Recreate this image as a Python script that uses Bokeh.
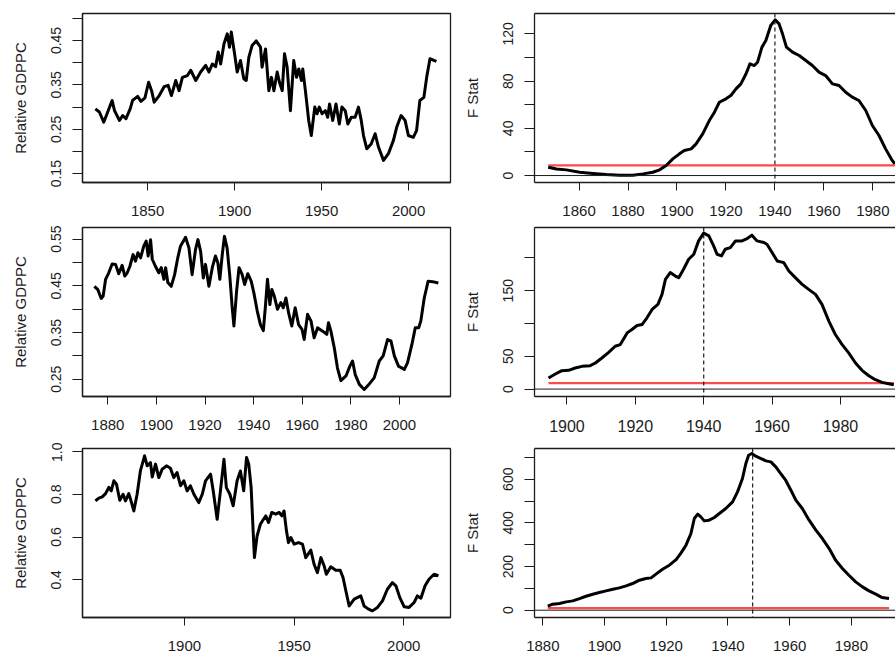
from bokeh.plotting import figure
from bokeh.layouts import column, row
from bokeh.models import FixedTicker, Range1d, Span, LinearAxis
from bokeh.embed import file_html
from bokeh.resources import INLINE

# ---------------- data ----------------
tl_year = [1820, 1822.3, 1824.8, 1826.7, 1829.6, 1831, 1833.8, 1835.7, 1837.6, 1840, 1841.4, 1844.3, 1846.2, 1848.5,
           1850.6, 1852.3, 1853.8, 1856.7, 1859.5, 1861.8, 1863.7, 1866.2, 1868.1, 1870, 1872.9, 1874.8, 1877.7,
           1880.5, 1883.4, 1885.3, 1887.2, 1889.1, 1890.6, 1892, 1893.9, 1895.8, 1897.1, 1898.1, 1900, 1901.5,
           1903.4, 1905.3, 1906.7, 1908.2, 1910.1, 1912.4, 1914.9, 1915.8, 1917.8, 1919.7, 1921.2, 1922.6, 1924.5,
           1925.8, 1927.4, 1928.7, 1930.2, 1932.1, 1934, 1935.6, 1936.9, 1938.4, 1939.2, 1940.7, 1942.6, 1944.1,
           1946.1, 1947.4, 1948.7, 1950.3, 1952.2, 1953.5, 1954.6, 1956.4, 1958.3, 1960.2, 1961.7, 1963.6, 1965.1,
           1967.1, 1969.3, 1971.2, 1972.8, 1974.1, 1976, 1978.5, 1980.8, 1982.7, 1985.6, 1988.4, 1991.3, 1993.2,
           1995.7, 1998, 1999.9, 2002.7, 2004.6, 2006.5, 2008.8, 2010.4, 2012.3, 2014.2, 2016]
tl_val = [0.296, 0.289, 0.266, 0.285, 0.315, 0.292, 0.27, 0.281, 0.274, 0.296, 0.315, 0.324, 0.313, 0.321,
          0.356, 0.337, 0.311, 0.326, 0.346, 0.349, 0.326, 0.36, 0.337, 0.367, 0.371, 0.383, 0.36,
          0.379, 0.394, 0.379, 0.397, 0.391, 0.424, 0.397, 0.442, 0.465, 0.435, 0.469, 0.42, 0.379,
          0.405, 0.364, 0.36, 0.412, 0.439, 0.449, 0.435, 0.39, 0.431, 0.337, 0.367, 0.337, 0.379,
          0.356, 0.337, 0.42, 0.39, 0.292, 0.405, 0.367, 0.386, 0.36, 0.386, 0.337, 0.27, 0.236,
          0.3, 0.285, 0.3, 0.285, 0.292, 0.277, 0.307, 0.27, 0.307, 0.262, 0.3, 0.292, 0.262,
          0.277, 0.277, 0.3, 0.27, 0.236, 0.206, 0.217, 0.24, 0.21, 0.18, 0.195, 0.225, 0.255,
          0.281, 0.27, 0.236, 0.232, 0.247, 0.315, 0.322, 0.367, 0.409, 0.406, 0.403]

ml_year = [1874.5, 1875.9, 1877.3, 1878.1, 1879.1, 1880.4, 1881.8, 1883.2, 1884.5, 1885.9,
           1887, 1888, 1889.1, 1890.4, 1891.4, 1892.4, 1893.5, 1894.8, 1895.8, 1896.6,
           1897.6, 1898.3, 1899.6, 1901, 1902, 1903.1, 1903.8, 1904.7, 1906.1, 1907.5,
           1908.8, 1909.9, 1912, 1913.4, 1914.7, 1916.1, 1917.1, 1918.2, 1919.3, 1920.2,
           1921.6, 1923, 1924.3, 1925.3, 1926.1, 1927.1, 1928, 1929.1, 1930.2, 1931.2,
           1931.9, 1933, 1934, 1935.3, 1936.3, 1937.6, 1939, 1940.1, 1941.5, 1942.8,
           1944, 1944.8, 1945.7, 1946.7, 1947.5, 1948.5, 1949.8, 1951.2, 1952.2, 1953.3,
           1954.4, 1955.7, 1957.1, 1958.5, 1959.9, 1960.8, 1962.2, 1963.6, 1964.9, 1966.3,
           1968.4, 1970.1, 1970.8, 1971.8, 1973.2, 1974.5, 1975.9, 1978, 1979.6, 1980.7,
           1981.8, 1983.5, 1985.5, 1987.6, 1989.6, 1991.7, 1993.3, 1995.1, 1996.5, 1997.9,
           1999.6, 2002, 2003.3, 2005.1, 2006.5, 2007.9, 2008.8, 2010.2, 2011.8, 2013.6, 2016]
ml_val = [0.449, 0.442, 0.423, 0.428, 0.464, 0.478, 0.497, 0.496, 0.476, 0.494,
          0.471, 0.478, 0.492, 0.517, 0.503, 0.521, 0.51, 0.535, 0.546, 0.514,
          0.549, 0.507, 0.492, 0.478, 0.489, 0.464, 0.489, 0.457, 0.449, 0.474,
          0.51, 0.535, 0.554, 0.531, 0.474, 0.528, 0.549, 0.524, 0.467, 0.496,
          0.449, 0.489, 0.514, 0.499, 0.464, 0.517, 0.556, 0.531, 0.471, 0.403,
          0.364, 0.439, 0.489, 0.474, 0.453, 0.476, 0.46, 0.435, 0.396, 0.367,
          0.354, 0.403, 0.464, 0.41, 0.442, 0.428, 0.4, 0.414, 0.403, 0.424,
          0.392, 0.364, 0.403, 0.367, 0.357, 0.335, 0.389, 0.375, 0.339, 0.36,
          0.353, 0.346, 0.371, 0.353, 0.317, 0.274, 0.247, 0.257, 0.278, 0.289,
          0.26, 0.239, 0.228, 0.24, 0.253, 0.289, 0.3, 0.335, 0.332, 0.3,
          0.278, 0.271, 0.285, 0.324, 0.36, 0.36, 0.375, 0.424, 0.46, 0.459, 0.456]

bl_year = [1859.4, 1860.9, 1862.5, 1864, 1865.5, 1866.6, 1867.8, 1869, 1870.5, 1872,
           1873.1, 1874.6, 1875.4, 1876.9, 1878.4, 1879.9, 1881.8, 1883, 1884.5, 1885.3,
           1886.8, 1888.3, 1889.8, 1891.8, 1893.6, 1895.1, 1896.6, 1898.2, 1899.7, 1901.2,
           1902.7, 1904.3, 1906.5, 1908.1, 1909.6, 1911.9, 1913.1, 1914.9, 1916.4, 1918,
           1919.1, 1920.7, 1922.2, 1924, 1925.5, 1927, 1928.3, 1929.3, 1930.4, 1931.3,
           1931.9, 1933.1, 1934.6, 1935.6, 1937.1, 1938.3, 1939.8, 1941.6, 1943.2, 1944.4,
           1945.4, 1946.5, 1947.4, 1948.5, 1950, 1952, 1953.8, 1955.3, 1957.6, 1959.1,
           1960.6, 1962.2, 1963.7, 1964.7, 1966.7, 1969, 1971, 1972.3, 1973.6, 1975.1,
           1977.4, 1980.4, 1981.9, 1983.9, 1985.7, 1988, 1990.3, 1992.5, 1994.8, 1996.4,
           1998.2, 2000.2, 2002.4, 2004.7, 2006.2, 2007.8, 2009.7, 2011.5, 2013.8, 2015.8]
bl_val = [0.769, 0.782, 0.788, 0.803, 0.832, 0.816, 0.863, 0.847, 0.772, 0.8,
          0.769, 0.803, 0.777, 0.722, 0.8, 0.909, 0.98, 0.933, 0.948, 0.881,
          0.941, 0.878, 0.917, 0.933, 0.922, 0.878, 0.902, 0.84, 0.863, 0.816,
          0.84, 0.8, 0.761, 0.8, 0.863, 0.894, 0.816, 0.683, 0.816, 0.964,
          0.831, 0.8, 0.746, 0.863, 0.909, 0.816, 0.972, 0.941, 0.831, 0.629,
          0.504, 0.605, 0.66, 0.676, 0.699, 0.668, 0.715, 0.707, 0.715, 0.699,
          0.722, 0.629, 0.574, 0.598, 0.567, 0.574, 0.567, 0.504, 0.539, 0.473,
          0.434, 0.504, 0.465, 0.426, 0.461, 0.445, 0.445, 0.411, 0.348, 0.278,
          0.31, 0.325, 0.278, 0.263, 0.255, 0.271, 0.302, 0.356, 0.387, 0.372,
          0.317, 0.274, 0.271, 0.294, 0.325, 0.314, 0.372, 0.403, 0.426, 0.419]

tr_year = [1847.4, 1850.8, 1854.8, 1860.3, 1865.7, 1871.1, 1876.6, 1882, 1886.1, 1890.1,
           1892.9, 1895.6, 1898.3, 1901, 1903, 1905.8, 1907.8, 1910.5, 1913.2, 1915.3,
           1917.3, 1920, 1922, 1924.1, 1926.1, 1928.2, 1929.8, 1931.6, 1932.9, 1934.7,
           1936.3, 1938.3, 1940.1, 1941.7, 1943.1, 1944.7, 1947.2, 1949.9, 1952.6, 1955.3,
           1958, 1960.7, 1963.5, 1966.2, 1968.9, 1971.6, 1974.3, 1977.1, 1979.8, 1982.5,
           1985.2, 1987.9, 1989]
tr_val = [7.1, 5.6, 4.8, 2.8, 1.7, 0.8, 0.3, 0.3, 1.4, 2.8,
          4.8, 8.5, 14.1, 18.4, 21.2, 22.6, 26.8, 35.3, 46.6, 53.7,
          62.1, 65, 67.8, 73.4, 77.7, 86.2, 94.6, 93.2, 96, 108.8,
          114.4, 127.1, 131.9, 128.5, 120.1, 108.8, 104.5, 101.7, 97.5, 93.2,
          87.6, 84.7, 77.7, 76.3, 70.6, 66.4, 63.6, 55.1, 42.4, 33.9,
          22.6, 12.7, 9.9]

mr_year = [1894.6, 1896.6, 1898.5, 1900.5, 1902.4, 1904.4, 1906.8, 1908.3, 1910.2, 1912.2,
           1914.1, 1915.6, 1917.6, 1919, 1920.5, 1922, 1923.4, 1924.9, 1926.6, 1927.8,
           1928.8, 1930.2, 1931.7, 1932.7, 1934.1, 1935.6, 1937.1, 1938.5, 1940, 1941.5,
           1942.9, 1943.9, 1945.2, 1946.3, 1947.8, 1949.3, 1951.2, 1952.7, 1954.1, 1955.6,
           1957.6, 1958.5, 1960, 1961.5, 1963.4, 1964.9, 1966.8, 1968.8, 1970.7, 1972.7,
           1974.6, 1976.6, 1978.5, 1980.5, 1982.4, 1984.4, 1986.3, 1988.3, 1990.2, 1992.2,
           1994.1, 1995.6]
mr_val = [16.8, 23, 28.1, 28.6, 32.1, 34.7, 35.7, 39.8, 47.4, 56.1,
          65.3, 67.9, 85.7, 90.8, 96.9, 98.5, 108.7, 121.4, 129.1, 144.4,
          167.3, 177.6, 172.4, 169.9, 182.7, 198, 205.6, 226, 237.8, 233.7,
          218.4, 205.6, 203.1, 213.3, 215.8, 226, 226, 229.6, 234.7, 226,
          223.5, 220.9, 208.2, 195.4, 192.9, 180.1, 169.9, 159.7, 152, 144.4,
          129.1, 103.6, 83.2, 67.9, 55.1, 39.8, 28.6, 20.4, 14.3, 10.2,
          8.2, 6.6]

br_year = [1881.6, 1883.2, 1885.4, 1887.6, 1889.7, 1891.9, 1894, 1896.2, 1898.3, 1900.5,
           1902.7, 1904.8, 1907, 1909.1, 1911.3, 1913.4, 1915.1, 1917.2, 1918.8, 1921,
           1923.2, 1924.8, 1926.4, 1928, 1929.1, 1930.2, 1931.2, 1932.3, 1933.9, 1935.6,
           1937.2, 1939.3, 1941.5, 1943.1, 1944.7, 1945.8, 1946.7, 1947.7, 1949, 1950.7,
           1952.3, 1953.9, 1955.5, 1957.1, 1958.7, 1960.4, 1962, 1964.1, 1966.3, 1968.5,
           1970.6, 1972.8, 1974.9, 1977.1, 1979.2, 1981.4, 1983.6, 1985.7, 1987.9, 1990, 1992.2]
br_val = [18.3, 27.5, 30.5, 38.2, 42.8, 53.4, 64.1, 73.3, 80.9, 88.6,
          96.2, 102.3, 111.5, 122.2, 137.4, 145.1, 148.1, 171, 187.8, 206.1,
          232.1, 262.6, 297.8, 351.2, 419.9, 439.8, 427.6, 409.2, 412.3, 424.5,
          442.8, 465.7, 496.3, 542.1, 603.2, 671.9, 710, 717.7, 705.5, 694.8,
          684.1, 679.5, 656.6, 626.1, 595.5, 549.7, 503.9, 465.7, 412.3, 366.5,
          328.3, 282.5, 229.1, 190.9, 160.3, 129.8, 106.9, 88.6, 73.3, 58, 53.4]

# break dates and critical values
tr_break, mr_break, br_break = 1940, 1940, 1948
tr_crit, mr_crit, br_crit = 8.6, 9.0, 9.5

# tick values (labelled / unlabelled)
tl_xt, tl_yt, tl_ym = [1850, 1900, 1950, 2000], [0.15, 0.25, 0.35, 0.45], [0.2, 0.3, 0.4, 0.5]
ml_xt, ml_yt, ml_ym = [1880, 1900, 1920, 1940, 1960, 1980, 2000], [0.25, 0.35, 0.45, 0.55], [0.3, 0.4, 0.5]
bl_xt, bl_yt, bl_ym = [1900, 1950, 2000], [0.4, 0.6, 0.8, 1.0], []
tr_xt, tr_yt, tr_ym = [1860, 1880, 1900, 1920, 1940, 1960, 1980], [0, 40, 80, 120], [20, 60, 100]
mr_xt, mr_yt, mr_ym = [1900, 1920, 1940, 1960, 1980], [0, 50, 150], [100, 200]
br_xt, br_yt, br_ym = [1880, 1900, 1920, 1940, 1960, 1980], [0, 200, 400, 600], [100, 300, 500, 700]
bl_ylabels = {0.4: "0.4", 0.6: "0.6", 0.8: "0.8", 1.0: "1.0"}

FONT = "Liberation Sans"
INK = "#1c1c1c"


def panel(w, h, mb, xr, yr, xt, yt, ym, ylabel, left_col, xfs="15px", overrides=None):
    p = figure(width=w, height=h, x_range=Range1d(*xr), y_range=Range1d(*yr),
               output_backend="svg", toolbar_location=None,
               min_border_left=mb[0], min_border_right=mb[1],
               min_border_top=mb[2], min_border_bottom=mb[3])
    p.xgrid.visible = False
    p.ygrid.visible = False
    p.background_fill_color = "white"
    p.border_fill_color = "white"
    xa = p.below[0]
    xa.ticker = FixedTicker(ticks=xt, minor_ticks=[])
    xa.major_tick_out = 8
    xa.major_tick_in = 0
    xa.minor_tick_out = 0
    xa.axis_line_color = INK
    xa.axis_line_width = 1.3
    xa.major_tick_line_color = INK
    xa.major_label_text_font = FONT
    xa.major_label_text_font_size = xfs
    xa.major_label_text_color = INK
    xa.major_label_standoff = 15
    ya = p.left[0]
    ya.ticker = FixedTicker(ticks=yt, minor_ticks=ym)
    ya.major_tick_out = 10
    ya.major_tick_in = 0
    ya.minor_tick_out = 10
    ya.minor_tick_in = 0
    ya.minor_tick_line_color = INK
    ya.major_tick_line_color = INK
    ya.axis_line_color = INK
    ya.axis_line_width = 1.3
    ya.major_label_orientation = "vertical"
    ya.major_label_text_font = FONT
    ya.major_label_text_font_size = "14px"
    ya.major_label_text_color = INK
    ya.major_label_standoff = 11
    if overrides:
        ya.major_label_overrides = overrides
    ya.axis_label = ylabel
    ya.axis_label_text_font = FONT
    ya.axis_label_text_font_size = "15px"
    ya.axis_label_text_font_style = "normal"
    ya.axis_label_text_color = INK
    ya.axis_label_standoff = 20
    if left_col:
        p.outline_line_color = INK
        p.outline_line_width = 1.3
    else:
        p.outline_line_color = None
        top = LinearAxis(ticker=FixedTicker(ticks=[], minor_ticks=[]), major_tick_out=0,
                         major_tick_in=0, minor_tick_out=0, minor_tick_in=0,
                         major_label_standoff=0, major_label_text_font_size="0px",
                         axis_line_color=INK, axis_line_width=1.3)
        p.add_layout(top, "above")
    return p


def fstat(p, years, vals, brk, crit):
    p.add_layout(Span(location=0, dimension="width", line_color=INK, line_width=1))
    p.line([years[0], years[-1]], [crit, crit], line_color="#ff4848", line_width=2.2)
    p.add_layout(Span(location=brk, dimension="height", line_color=INK, line_width=1.2,
                      line_dash="4 3"))
    p.line(years, vals, line_color="black", line_width=3, line_join="round")


# panels
tl = panel(460, 222, (82, 10, 13, 40), (1812.6, 2024.1), (0.1302, 0.5108), tl_xt, tl_yt, tl_ym,
           "Relative GDPPC", True)
tl.line(tl_year, tl_val, line_color="black", line_width=3, line_join="round")

tr = panel(435, 222, (73, 0, 13, 40), (1841.8, 1989.25), (-5.9, 137.3), tr_xt, tr_yt, tr_ym,
           "F Stat", False)
fstat(tr, tr_year, tr_val, tr_break, tr_crit)

ml = panel(460, 220, (82, 10, 5, 46), (1869.6, 2021.0), (0.213, 0.575), ml_xt, ml_yt, ml_ym,
           "Relative GDPPC", True)
ml.line(ml_year, ml_val, line_color="black", line_width=3, line_join="round")

mr = panel(435, 220, (74, 0, 5, 46), (1890.5, 1996.1), (-11.3, 246.4), mr_xt, mr_yt, mr_ym,
           "F Stat", False, xfs="16px")
fstat(mr, mr_year, mr_val, mr_break, mr_crit)

bl = panel(460, 212, (82, 10, 6, 37), (1853.5, 2021.3), (0.224, 1.014), bl_xt, bl_yt, bl_ym,
           "Relative GDPPC", True, overrides=bl_ylabels)
bl.line(bl_year, bl_val, line_color="black", line_width=3, line_join="round")

br = panel(435, 212, (73, 0, 6, 37), (1877.3, 1994.3), (-33.4, 740.7), br_xt, br_yt, br_ym,
           "F Stat", False)
fstat(br, br_year, br_val, br_break, br_crit)

layout = column(row(tl, tr), row(ml, mr), row(bl, br))

open("out.html", "w").write(file_html(layout, INLINE))
